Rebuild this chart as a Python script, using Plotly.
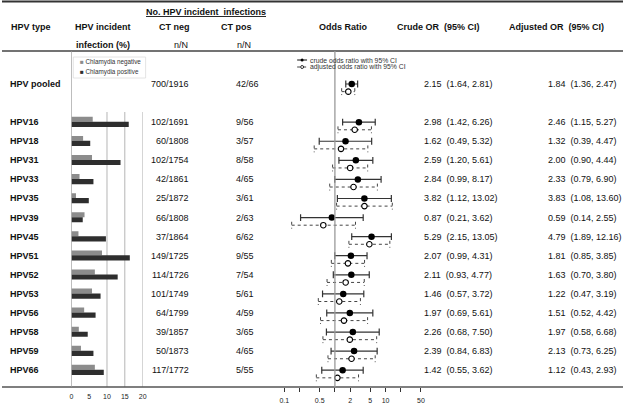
import plotly.graph_objects as go

# ---------------- data ----------------
hpv_types = ["HPV pooled", "HPV16", "HPV18", "HPV31", "HPV33", "HPV35", "HPV39", "HPV45",
             "HPV51", "HPV52", "HPV53", "HPV56", "HPV58", "HPV59", "HPV66"]
row_pos = [0, 2, 3, 4, 5, 6, 7, 8, 9, 10, 11, 12, 13, 14, 15]

ct_neg = ["700/1916", "102/1691", "60/1808", "102/1754", "42/1861", "25/1872", "66/1808", "37/1864",
          "149/1725", "114/1726", "101/1749", "64/1799", "39/1857", "50/1873", "117/1772"]
ct_pos = ["42/66", "9/56", "3/57", "8/58", "4/65", "3/61", "2/63", "6/62",
          "9/55", "7/54", "5/61", "4/59", "3/65", "4/65", "5/55"]

crude_or = [2.15, 2.98, 1.62, 2.59, 2.84, 3.82, 0.87, 5.29, 2.07, 2.11, 1.46, 1.97, 2.26, 2.39, 1.42]
crude_lo = [1.64, 1.42, 0.49, 1.20, 0.99, 1.12, 0.21, 2.15, 0.99, 0.93, 0.57, 0.69, 0.68, 0.84, 0.55]
crude_hi = [2.81, 6.26, 5.32, 5.61, 8.17, 13.02, 3.62, 13.05, 4.31, 4.77, 3.72, 5.61, 7.50, 6.83, 3.62]

adj_or = [1.84, 2.46, 1.32, 2.00, 2.33, 3.83, 0.59, 4.79, 1.81, 1.63, 1.22, 1.51, 1.97, 2.13, 1.12]
adj_lo = [1.36, 1.15, 0.39, 0.90, 0.79, 1.08, 0.14, 1.89, 0.85, 0.70, 0.47, 0.52, 0.58, 0.73, 0.43]
adj_hi = [2.47, 5.27, 4.47, 4.44, 6.90, 13.60, 2.55, 12.16, 3.85, 3.80, 3.19, 4.42, 6.68, 6.25, 2.93]

# incidence (%) bars, type-specific rows only (HPV16..HPV66)
bar_types = hpv_types[1:]
bar_rows = row_pos[1:]
neg_pct = [6.0, 3.3, 5.8, 2.3, 1.3, 3.7, 2.0, 8.6, 6.6, 5.8, 3.6, 2.1, 2.7, 6.6]
pos_pct = [16.1, 5.3, 13.8, 6.2, 4.9, 3.2, 9.7, 16.4, 13.0, 8.2, 6.8, 4.6, 6.2, 9.1]

or_ticks = [0.1, 0.2, 0.5, 1, 2, 5, 10, 20, 50]
or_ticktext = ["0.1", "", "0.5", "", "2", "5", "10", "", "50"]
bar_ticks = [0, 5, 10, 15, 20]

# ---------------- layout helpers ----------------
W, H = 627, 404
FONT = "Liberation Sans, Arial, sans-serif"
ADJ_SHIFT = 0.4     # adjusted estimate drawn slightly below the crude one
CAP = 0.18


def px(x):
    return x / W


def py(y):
    return 1 - y / H


fig = go.Figure()

# ---- bars ----
fig.add_trace(go.Bar(y=bar_rows, x=neg_pct, orientation="h", xaxis="x", yaxis="y",
                     marker=dict(color="#8c8c8c", line=dict(width=0)),
                     offset=-0.28, width=0.26, name="Chlamydia negative", showlegend=False))
fig.add_trace(go.Bar(y=bar_rows, x=pos_pct, orientation="h", xaxis="x", yaxis="y",
                     marker=dict(color="#2e2e2e", line=dict(width=0)),
                     offset=-0.02, width=0.27, name="Chlamydia positive", showlegend=False))

# ---- forest: crude ----
cx, cy, capx, capy = [], [], [], []
for r, lo, hi in zip(row_pos, crude_lo, crude_hi):
    cx += [lo, hi, None]
    cy += [r, r, None]
    for v in (lo, hi):
        capx += [v, v, None]
        capy += [r - CAP, r + CAP, None]
fig.add_trace(go.Scatter(x=cx, y=cy, xaxis="x2", yaxis="y", mode="lines",
                         line=dict(color="#333333", width=1.2), showlegend=False, hoverinfo="skip"))
fig.add_trace(go.Scatter(x=capx, y=capy, xaxis="x2", yaxis="y", mode="lines",
                         line=dict(color="#333333", width=1.2), showlegend=False, hoverinfo="skip"))

# ---- forest: adjusted ----
ax_, ay_, acx, acy = [], [], [], []
for r, lo, hi in zip(row_pos, adj_lo, adj_hi):
    rr = r + ADJ_SHIFT
    ax_ += [lo, hi, None]
    ay_ += [rr, rr, None]
    for v in (lo, hi):
        acx += [v, v, None]
        acy += [rr - CAP, rr + CAP, None]
fig.add_trace(go.Scatter(x=ax_, y=ay_, xaxis="x2", yaxis="y", mode="lines",
                         line=dict(color="#444444", width=1, dash="dot"), showlegend=False, hoverinfo="skip"))
fig.add_trace(go.Scatter(x=acx, y=acy, xaxis="x2", yaxis="y", mode="lines",
                         line=dict(color="#444444", width=1, dash="dot"), showlegend=False, hoverinfo="skip"))

fig.add_trace(go.Scatter(x=crude_or, y=row_pos, xaxis="x2", yaxis="y", mode="markers",
                         marker=dict(color="black", size=6.5, line=dict(width=0)),
                         showlegend=False))
fig.add_trace(go.Scatter(x=adj_or, y=[r + ADJ_SHIFT for r in row_pos], xaxis="x2", yaxis="y",
                         mode="markers",
                         marker=dict(color="white", size=5.5, line=dict(color="black", width=1.1)),
                         showlegend=False))

# ---------------- annotations ----------------
ann = []


def text(x, y, s, size=9, bold=False, anchor="left", yref="paper", color="#111111"):
    ann.append(dict(x=x, y=y, xref="paper", yref=yref, text=f"<b>{s}</b>" if bold else s,
                    showarrow=False, xanchor=anchor, yanchor="middle",
                    font=dict(family=FONT, size=size, color=color)))


# headers
text(px(206), py(12), "<u>No. HPV incident\u00a0\u00a0infections</u>", bold=True, anchor="center")
text(px(7), py(27), "HPV type", bold=True)
text(px(72), py(27), "HPV incident", bold=True)
text(px(174), py(27), "CT neg", bold=True, anchor="center")
text(px(237), py(27), "CT pos", bold=True, anchor="center")
text(px(345), py(27), "Odds Ratio", bold=True, anchor="center")
text(px(441), py(27), "Crude OR\u00a0\u00a0(95% CI)", bold=True, anchor="center")
text(px(560), py(27), "Adjusted OR\u00a0\u00a0(95% CI)", bold=True, anchor="center")
text(px(73), py(45), "infection (%)", bold=True)
text(px(190), py(45), "n/N", anchor="right")
text(px(253), py(45), "n/N", anchor="right")

# rows
for i, r in enumerate(row_pos):
    text(px(6), r, hpv_types[i], bold=True, yref="y")
    text(px(191), r, ct_neg[i], anchor="right", yref="y")
    text(px(234), r, ct_pos[i], yref="y")
    text(px(424), r, f"{crude_or[i]:.2f}\u00a0\u00a0({crude_lo[i]:.2f}, {crude_hi[i]:.2f})", yref="y")
    text(px(549), r, f"{adj_or[i]:.2f}\u00a0\u00a0({adj_lo[i]:.2f}, {adj_hi[i]:.2f})", yref="y")

# bar legend
text(px(77), py(62), "<span style='color:#8c8c8c'>\u25a0</span> Chlamydia negative", size=6.3, color="#333333")
text(px(77), py(72), "<span style='color:#2e2e2e'>\u25a0</span> Chlamydia positive", size=6.3, color="#333333")
# forest legend
text(px(309), py(60), "crude odds ratio with 95% CI", size=6.8, color="#333333")
text(px(309), py(67), "adjusted odds ratio with 95% CI", size=6.8, color="#333333")

# ---------------- shapes ----------------
shapes = [
    dict(type="line", xref="paper", yref="paper", x0=0, x1=1, y0=py(1.5), y1=py(1.5),
         line=dict(color="#333333", width=2)),
    dict(type="line", xref="paper", yref="paper", x0=0, x1=1, y0=py(51), y1=py(51),
         line=dict(color="#444444", width=1.5)),
    dict(type="line", xref="paper", yref="paper", x0=0, x1=1, y0=py(387), y1=py(387),
         line=dict(color="#555555", width=1.5)),
    # bar axis zero line
    dict(type="line", xref="x", yref="paper", x0=0, x1=0, y0=py(51), y1=py(387),
         line=dict(color="#9a9a9a", width=1.3), layer="above"),
    # OR = 1 reference line
    dict(type="line", xref="x2", yref="paper", x0=1, x1=1, y0=py(51), y1=py(387),
         line=dict(color="#9a9a9a", width=1.3), layer="above"),
    # bar legend box
    dict(type="rect", xref="paper", yref="paper", x0=px(72), x1=px(145), y0=py(57), y1=py(78),
         line=dict(color="#dddddd", width=0.8), fillcolor="white", layer="below"),
    # forest legend symbols
    dict(type="line", xref="paper", yref="paper", x0=px(298), x1=px(308), y0=py(60), y1=py(60),
         line=dict(color="#333333", width=1.2)),
    dict(type="line", xref="paper", yref="paper", x0=px(298), x1=px(308), y0=py(67), y1=py(67),
         line=dict(color="#444444", width=1, dash="dot")),
    dict(type="circle", xref="paper", yref="paper", x0=px(301.5), x1=px(304.5), y0=py(58.5), y1=py(61.5),
         fillcolor="black", line=dict(width=0)),
    dict(type="circle", xref="paper", yref="paper", x0=px(301.5), x1=px(304.5), y0=py(65.5), y1=py(68.5),
         fillcolor="white", line=dict(color="black", width=0.8)),
]
for g in (10, 15, 20):
    shapes.append(dict(type="line", xref="x", yref="paper", x0=g, x1=g, y0=py(112), y1=py(387),
                       line=dict(color="#b5b5b5", width=1), layer="below"))

# ---------------- axes ----------------
y_top = -84 / 19.08
y_bot = (H - 84) / 19.08
axis_pos = 1 - 387 / H

fig.update_layout(
    width=W, height=H, autosize=False,
    margin=dict(l=0, r=0, t=0, b=0),
    paper_bgcolor="white", plot_bgcolor="rgba(0,0,0,0)",
    barmode="overlay", showlegend=False,
    font=dict(family=FONT, color="#111111"),
    xaxis=dict(domain=[px(70), px(142)], range=[0, 20], anchor="free", position=axis_pos,
               tickvals=bar_ticks, ticks="", showgrid=False, zeroline=False, showline=False,
               ticklabelstandoff=4,
               tickfont=dict(size=7, color="#222222"), fixedrange=True),
    xaxis2=dict(domain=[px(260), px(440)], type="log", range=[-1.489, 2.032], anchor="free",
                position=axis_pos, tickvals=or_ticks, ticktext=or_ticktext, ticks="outside",
                ticklen=4, tickcolor="#333333", showgrid=False, zeroline=False, showline=False,
                ticklabelstandoff=3,
                tickfont=dict(size=7, color="#222222"), fixedrange=True),
    yaxis=dict(domain=[0, 1], range=[y_bot, y_top], visible=False, fixedrange=True),
    annotations=ann,
    shapes=shapes,
)

fig.write_html(
    "out.html",
    config={"displayModeBar": False},
    post_script="document.body.style.margin='0';document.body.style.overflow='hidden';",
)
